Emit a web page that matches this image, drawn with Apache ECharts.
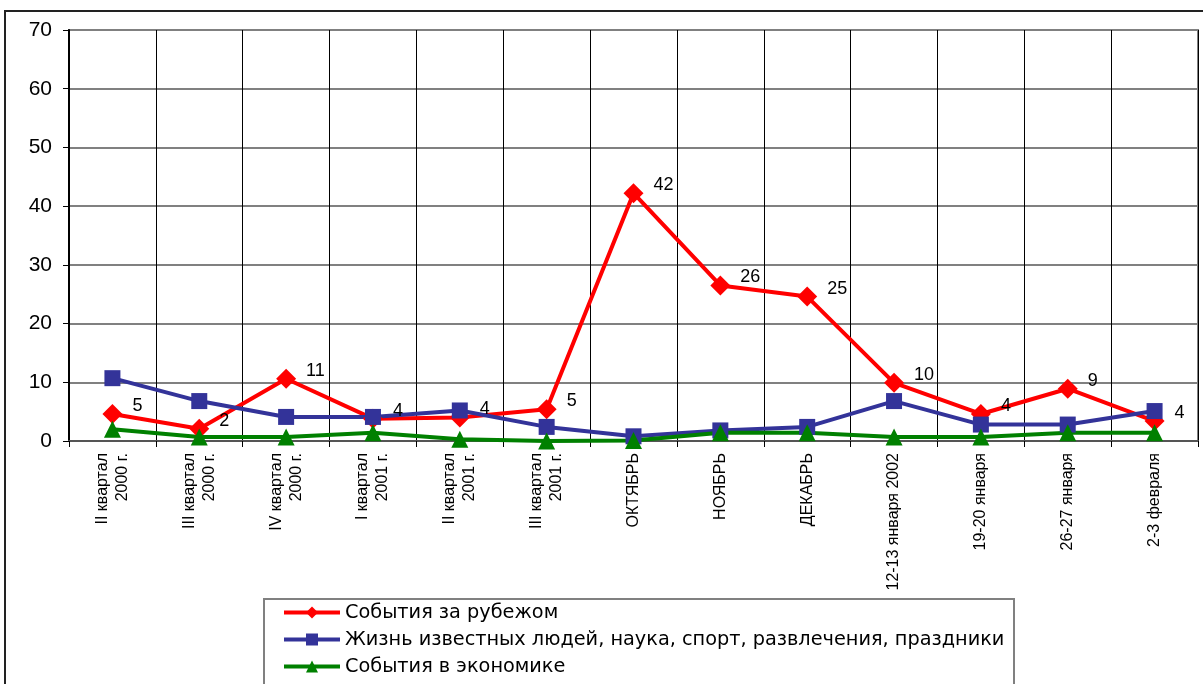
<!DOCTYPE html>
<html>
<head>
<meta charset="utf-8">
<script src="https://cdn.jsdelivr.net/npm/echarts@6/dist/echarts.min.js"></script>
<style>
html,body{margin:0;padding:0;background:#fff;}
#chart{width:1203px;height:684px;}
</style>
</head>
<body>
<div id="chart"></div>
<script>
const categories = [
  'II квартал\n2000 г.', 'III квартал\n2000 г.', 'IV квартал\n2000 г.',
  'I квартал\n2001 г.', 'II квартал\n2001 г.', 'III квартал\n2001 г.',
  'ОКТЯБРЬ', 'НОЯБРЬ', 'ДЕКАБРЬ', '12-13 января 2002',
  '19-20 января', '26-27 января', '2-3 февраля'
];
const seriesNames = [
  'События за рубежом',
  'Жизнь известных людей, наука, спорт, развлечения, праздники',
  'События в экономике'
];
const abroad = [4.6, 2.1, 10.6, 3.8, 4.0, 5.4, 42.2, 26.5, 24.6, 9.9, 4.6, 8.9, 3.4];
const abroadLabels = ['5', '2', '11', '4', '4', '5', '42', '26', '25', '10', '4', '9', '4'];
const celebrities = [10.7, 6.8, 4.1, 4.1, 5.2, 2.4, 0.8, 1.8, 2.4, 6.8, 2.8, 2.8, 5.1];
const economy = [2.0, 0.7, 0.7, 1.4, 0.3, 0.0, 0.1, 1.4, 1.4, 0.7, 0.7, 1.4, 1.4];
const yTicks = { min: 0, max: 70, interval: 10 };

const FONT = '"Liberation Sans", Arial, sans-serif';
const chart = echarts.init(document.getElementById('chart'), null, { renderer: 'canvas' });
chart.setOption({
  animation: false,
  backgroundColor: '#fff',
  textStyle: { fontFamily: FONT },
  graphic: [
    {
      type: 'rect',
      shape: { x: 5, y: 11, width: 1400, height: 1000 },
      style: { fill: 'none', stroke: '#222', lineWidth: 2 },
      z: 0
    },
    {
      type: 'rect',
      shape: { x: 264, y: 599, width: 750, height: 200 },
      style: { fill: '#fff', stroke: '#808080', lineWidth: 2 },
      z: 1
    }
  ],
  grid: {
    left: 69, top: 30, right: 5, bottom: 243,
    show: true, borderColor: '#808080', borderWidth: 2, backgroundColor: 'transparent'
  },
  legend: {
    orient: 'vertical',
    left: 264, top: 599,
    padding: [4, 10, 0, 18],
    itemGap: 8,
    itemWidth: 56, itemHeight: 15,
    z: 5,
    lineStyle: { width: 4 },
    textStyle: { fontFamily: '"DejaVu Sans", sans-serif', fontSize: 19.3, color: '#000' },
    data: seriesNames
  },
  xAxis: {
    type: 'category',
    data: categories,
    boundaryGap: true,
    axisLine: { lineStyle: { color: '#555', width: 2 } },
    axisTick: { show: true, length: 6, lineStyle: { color: '#000', width: 1 } },
    axisLabel: {
      interval: 0, rotate: 90, margin: 12,
      fontFamily: FONT, fontSize: 16, lineHeight: 20, color: '#000'
    },
    splitLine: { show: true, lineStyle: { color: '#000', width: 1 } }
  },
  yAxis: {
    type: 'value',
    min: yTicks.min, max: yTicks.max, interval: yTicks.interval,
    axisLine: { show: true, lineStyle: { color: '#000', width: 2 } },
    axisTick: { show: true, length: 6, lineStyle: { color: '#000' } },
    axisLabel: { fontFamily: FONT, fontSize: 21, color: '#000', margin: 17 },
    splitLine: { show: true, lineStyle: { color: '#808080', width: 2 } }
  },
  series: [
    {
      name: seriesNames[0], type: 'line', data: abroad,
      symbol: 'diamond', symbolSize: 20,
      lineStyle: { color: '#ff0000', width: 4 },
      itemStyle: { color: '#ff0000' },
      label: {
        show: true, position: 'right', distance: 10, offset: [0, -8],
        fontFamily: FONT, fontSize: 18, color: '#000',
        formatter: p => abroadLabels[p.dataIndex]
      }
    },
    {
      name: seriesNames[1], type: 'line', data: celebrities,
      symbol: 'rect', symbolSize: 16,
      lineStyle: { color: '#333399', width: 4 },
      itemStyle: { color: '#333399' }
    },
    {
      name: seriesNames[2], type: 'line', data: economy,
      symbol: 'triangle', symbolSize: 17,
      lineStyle: { color: '#008000', width: 4 },
      itemStyle: { color: '#008000' }
    }
  ]
});
</script>
</body>
</html>
